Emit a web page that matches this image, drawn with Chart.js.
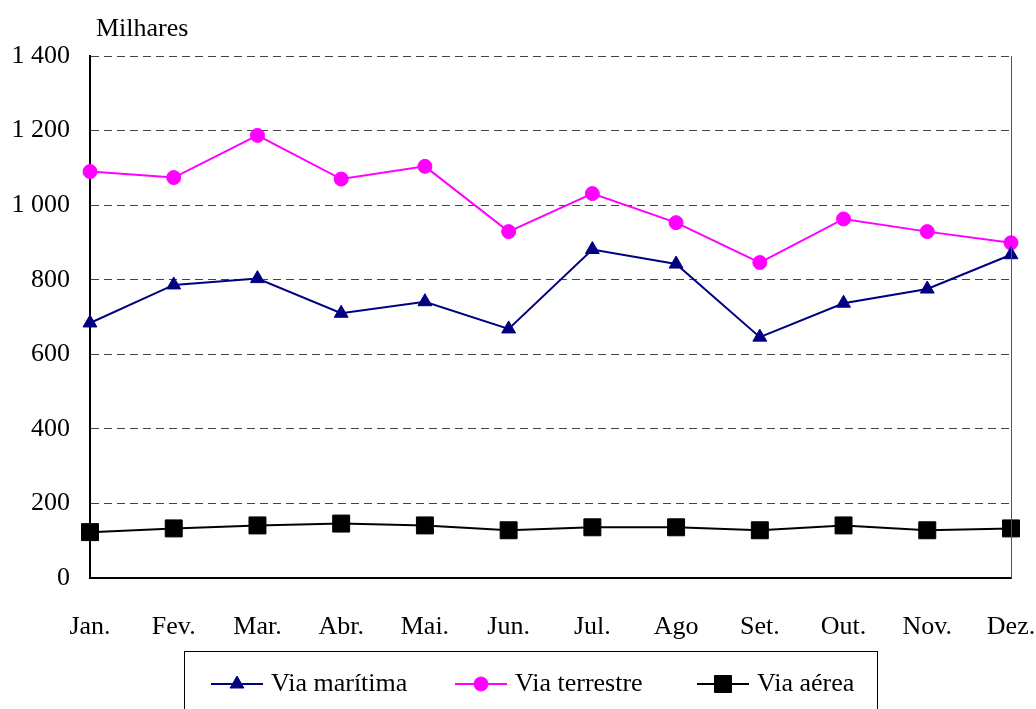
<!DOCTYPE html>
<html><head><meta charset="utf-8">
<script src="https://cdn.jsdelivr.net/npm/chart.js@4.4.1/dist/chart.umd.min.js"></script>
<style>html,body{margin:0;padding:0;background:#fff;} canvas{display:block;}</style>
</head><body>
<canvas id="c" width="1036" height="709"></canvas>
<script>
const months = ['Jan.','Fev.','Mar.','Abr.','Mai.','Jun.','Jul.','Ago','Set.','Out.','Nov.','Dez.'];
const viaMaritima = [684,786,803,710,741,668,881,842,646,737,775,867];
const viaTerrestre = [1090,1074,1187,1070,1104,929,1031,953,846,963,929,899];
const viaAerea = [123,133,141,146,141,128,136,136,128,141,128,133];
const yTickLabels = ['0','200','400','600','800','1 000','1 200','1 400'];
const seriesNames = ['Via marítima','Via terrestre','Via aérea'];
const unitLabel = 'Milhares';

const FONT = 'Liberation Serif, Times New Roman, serif';
Chart.defaults.font.family = FONT;
Chart.defaults.font.size = 26;
Chart.defaults.color = '#000';

function drawMarker(ctx, style, r, x, y, color) {
  if (Chart.helpers && Chart.helpers.drawPoint) {
    ctx.save();
    ctx.fillStyle = color; ctx.strokeStyle = color; ctx.lineWidth = 1;
    Chart.helpers.drawPoint(ctx, {pointStyle: style, radius: r, rotation: 0, borderWidth: 1}, x, y);
    ctx.restore();
  }
}

const extras = {
  id: 'extras',
  afterDraw(chart) {
    const ctx = chart.ctx;
    const a = chart.chartArea;
    ctx.save();
    // right border of plot area
    ctx.strokeStyle = '#555';
    ctx.lineWidth = 1;
    ctx.beginPath();
    ctx.moveTo(Math.round(a.right) + 0.5, a.top);
    ctx.lineTo(Math.round(a.right) + 0.5, a.bottom);
    ctx.stroke();
    // unit label
    ctx.fillStyle = '#000';
    ctx.font = '26px ' + FONT;
    ctx.textBaseline = 'middle';
    ctx.textAlign = 'left';
    ctx.fillText(unitLabel, 96, 29);
    // legend box
    ctx.strokeStyle = '#000';
    ctx.lineWidth = 1;
    ctx.strokeRect(184.5, 651.5, 693, 80);
    const lineStarts = [211, 455, 697];
    chart.data.datasets.forEach((ds, i) => {
      const x0 = lineStarts[i], y = 684;
      ctx.strokeStyle = ds.borderColor;
      ctx.lineWidth = 2;
      ctx.beginPath();
      ctx.moveTo(x0, y); ctx.lineTo(x0 + 52, y); ctx.stroke();
      drawMarker(ctx, ds.pointStyle, ds.pointRadius, x0 + 26, y, ds.borderColor);
      ctx.fillStyle = '#000';
      ctx.textBaseline = 'middle';
      ctx.fillText(ds.label, x0 + 60, y);
    });
    ctx.restore();
  }
};

new Chart(document.getElementById('c'), {
  type: 'line',
  data: {
    labels: months,
    datasets: [
      {label: seriesNames[0], data: viaMaritima, borderColor: '#000080', backgroundColor: '#000080',
       borderWidth: 2, pointStyle: 'triangle', pointRadius: 8, pointBorderWidth: 1, tension: 0},
      {label: seriesNames[1], data: viaTerrestre, borderColor: '#FF00FF', backgroundColor: '#FF00FF',
       borderWidth: 2, pointStyle: 'circle', pointRadius: 7, pointBorderWidth: 1, tension: 0},
      {label: seriesNames[2], data: viaAerea, borderColor: '#000000', backgroundColor: '#000000',
       borderWidth: 2, pointStyle: 'rect', pointRadius: 12, pointBorderWidth: 1, tension: 0}
    ]
  },
  options: {
    responsive: false,
    animation: false,
    events: [],
    layout: {padding: {top: 56, right: 25, left: 0, bottom: 0}},
    plugins: {legend: {display: false}, tooltip: {enabled: false}},
    scales: {
      x: {
        offset: false,
        grid: {display: false, drawTicks: false},
        border: {display: true, color: '#000', width: 2},
        ticks: {padding: 34, autoSkip: false, maxRotation: 0, font: {size: 26}},
        afterFit(s) { s.height = 131; s.paddingRight = 0; s.paddingLeft = 0; }
      },
      y: {
        min: 0, max: 1400,
        grid: {color: '#444', lineWidth: 1, drawTicks: false},
        border: {display: true, color: '#000', width: 2, dash: [8, 5]},
        ticks: {stepSize: 200, padding: 20, font: {size: 26},
          callback: (v) => yTickLabels[Math.round(v / 200)]},
        afterFit(s) { s.width = 90; s.paddingTop = 0; s.paddingBottom = 0; }
      }
    }
  },
  plugins: [extras]
});
</script>
</body></html>
